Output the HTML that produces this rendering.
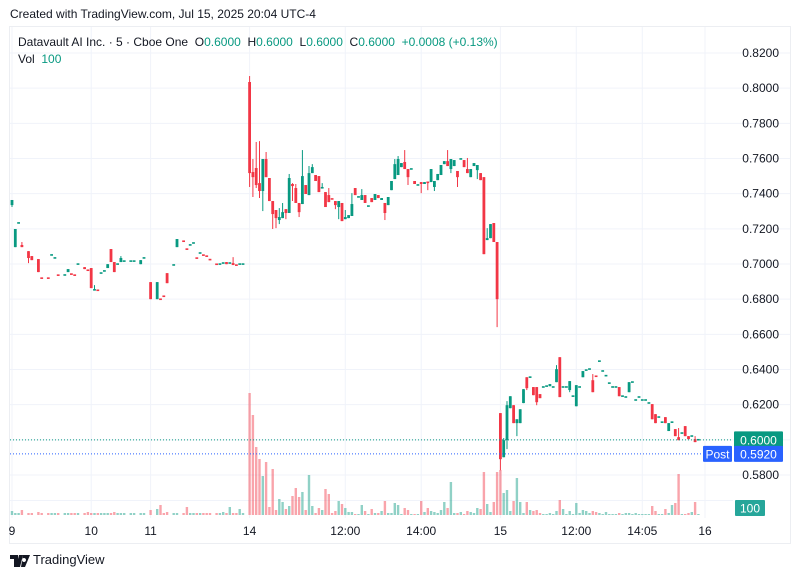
<!DOCTYPE html>
<html><head><meta charset="utf-8">
<style>
html,body{margin:0;padding:0;background:#fff;}
body{width:798px;height:578px;overflow:hidden;font-family:"Liberation Sans",sans-serif;color:#131722;position:relative;}
.t{position:absolute;font-size:12px;white-space:nowrap;}
.g{color:#089981;}
</style></head>
<body>
<div class="t" style="left:10px;top:7px;">Created with TradingView.com, Jul 15, 2025 20:04 UTC-4</div>
<svg id="chart" width="798" height="578" style="position:absolute;left:0;top:0;" xmlns="http://www.w3.org/2000/svg">
<rect x="9.5" y="26.5" width="781" height="517" fill="none" stroke="#eceef2"/>
<g id="grid"></g>
<g id="vol"></g>
<g id="candles"></g>
<g id="axes"></g>
</svg>
<div class="t" style="left:18px;top:35px;">Datavault AI Inc. · 5 · Cboe One&nbsp; O<span class="g">0.6000</span>&nbsp; H<span class="g">0.6000</span>&nbsp; L<span class="g">0.6000</span>&nbsp; C<span class="g">0.6000</span>&nbsp; <span class="g">+0.0008 (+0.13%)</span></div>
<div class="t" style="left:18px;top:52px;">Vol&nbsp; <span class="g">100</span></div>
<div style="position:absolute;left:10px;top:552px;height:16px;">
<svg width="20" height="12" style="position:absolute;left:0;top:3px;"><path d="M0 0h8v12H4V4H0z M9 0h4l-3 12H6z M14 3a2 2 0 1 0 0.01 0z M13 0h7l-5 12h-4z" fill="#131722"/></svg>
<span style="position:absolute;left:23px;top:0;font-size:13px;">TradingView</span>
</div>
<script>
var slots1=[0,1,2,3,5,6,8,9,11,12,13,14,16,17,18,19,20,22,23,24,25,26,27,28,29,30,31,32,33,34,36,37,39,40,42,44,45,46,47,49,50,52,53,54,55,56,57,58,59,60,62,63,64,65,66,67,68,69,70];
var opens=[.7335,.7096,.7233,.7108,.7073,.7045,.7028,.6920,.6920,.7051,.7034,.6937,.6937,.6954,.6943,.6937,.6999,.6982,.6965,.6977,.6851,.6851,.6948,.6960,.6977,.7085,.7011,.6999,.7011,.7016,.7016,.7016,.6999,.7034,.6897,.6800,.6800,.6817,.6948,.6994,.7096,.7130,.7085,.7108,.7119,.7034,.7062,.7051,.7045,.7028,.6999,.6999,.7005,.7011,.7005,.7005,.6994,.6999,.6999,
.8035,.7523,.7546,.7460,.7415,.7597,.7489,.7358,.7307,.7250,.7261,.7312,.7290,.7455,.7432,.7347,.7341,.7449,.7392,.7517,.7506,.7500,.7432,.7409,.7392,.7371,.7358,.7324,.7347,.7255,.7261,.7273,.7432,.7381,.7364,.7392,.7329,.7375,.7364,.7392,.7364,.7347,.7335,.7420,.7483,.7506,.7551,.7580,.7540,.7540,.7472,.7449,.7466,.7455,.7466,.7466,.7438,.7477,.7506,.7568,.7585,.7540,.7557,.7529,.7597,.7591,.7540,.7494,.7557,.7534,.7517,.7494,.7136,.7147,.7233,.7125,
.6152,.5901,.5998,.6180,.6197,.6095,.6095,.6209,.6356,.6356,.6300,.6300,.6260,.6300,.6305,.6305,.6300,.6328,.6470,.6300,.6300,.6283,.6248,.6191,.6300,.6356,.6396,.6402,.6339,.6362,.6447,.6391,.6362,.6322,.6300,.6300,.6300,.6248,.6243,.6271,.6328,.6226,.6243,.6226,.6226,.6209,.6203,.6146,.6129,.6100,.6129,.6050,.6100,.6061,.6015,.6038,.6078,.6021,.6021,.6004,.6000];
var highs=[.7364,.7199,.7233,.7125,.7073,.7045,.7028,.6920,.6920,.7051,.7034,.6937,.6937,.6971,.6943,.6937,.6999,.6982,.6965,.6977,.6880,.6851,.6948,.6960,.6999,.7085,.7011,.6999,.7045,.7016,.7016,.7016,.7022,.7034,.6897,.6897,.6800,.6817,.6948,.6994,.7142,.7130,.7085,.7108,.7119,.7034,.7062,.7051,.7045,.7028,.6999,.6999,.7005,.7011,.7005,.7039,.6994,.6999,.6999,
.8069,.7597,.7694,.7699,.7597,.7637,.7489,.7358,.7307,.7318,.7347,.7312,.7512,.7460,.7455,.7347,.7648,.7449,.7557,.7568,.7506,.7500,.7460,.7409,.7432,.7371,.7358,.7358,.7347,.7307,.7278,.7403,.7432,.7381,.7426,.7392,.7329,.7375,.7398,.7392,.7375,.7347,.7381,.7472,.7597,.7614,.7574,.7648,.7540,.7540,.7472,.7449,.7466,.7466,.7466,.7540,.7472,.7512,.7563,.7585,.7648,.7597,.7591,.7529,.7597,.7591,.7603,.7540,.7574,.7563,.7517,.7494,.7204,.7227,.7233,.7125,
.6152,.6010,.6220,.6248,.6197,.6117,.6174,.6288,.6356,.6356,.6300,.6300,.6260,.6300,.6305,.6317,.6300,.6425,.6470,.6300,.6300,.6334,.6248,.6311,.6300,.6391,.6396,.6402,.6374,.6362,.6447,.6391,.6368,.6322,.6300,.6300,.6300,.6248,.6243,.6328,.6328,.6226,.6243,.6226,.6226,.6209,.6203,.6146,.6129,.6100,.6129,.6095,.6100,.6061,.6067,.6038,.6078,.6021,.6021,.6021,.6000];
var lows=[.7324,.7096,.7233,.7096,.7005,.7022,.6954,.6920,.6920,.7051,.7034,.6937,.6937,.6954,.6943,.6937,.6999,.6971,.6965,.6863,.6851,.6851,.6948,.6960,.6977,.7011,.6954,.6999,.7011,.7016,.7016,.7016,.6999,.7034,.6800,.6800,.6800,.6817,.6891,.6994,.7096,.7130,.7085,.7108,.7119,.7034,.7062,.7051,.7045,.7022,.6999,.6999,.7005,.6999,.7005,.6994,.6994,.6999,.6999,
.7438,.7381,.7432,.7375,.7301,.7494,.7358,.7199,.7204,.7227,.7261,.7255,.7290,.7358,.7347,.7267,.7341,.7398,.7392,.7517,.7472,.7409,.7432,.7324,.7352,.7369,.7312,.7255,.7244,.7255,.7261,.7273,.7392,.7381,.7364,.7347,.7329,.7352,.7364,.7375,.7364,.7250,.7335,.7420,.7483,.7506,.7551,.7540,.7449,.7540,.7455,.7449,.7403,.7455,.7420,.7466,.7415,.7477,.7506,.7568,.7557,.7517,.7557,.7438,.7597,.7551,.7517,.7494,.7557,.7483,.7477,.7056,.7136,.7147,.7125,.6641,
.5827,.5901,.5947,.6180,.6095,.6021,.6095,.6209,.6283,.6356,.6254,.6197,.6237,.6300,.6305,.6305,.6300,.6328,.6243,.6300,.6300,.6271,.6248,.6191,.6300,.6356,.6396,.6402,.6271,.6362,.6447,.6391,.6362,.6322,.6300,.6300,.6248,.6248,.6243,.6271,.6328,.6226,.6243,.6226,.6226,.6209,.6117,.6095,.6129,.6100,.6095,.6050,.6100,.6021,.5998,.6038,.6021,.6004,.6021,.5987,.6000];
var closes=[.7364,.7199,.7234,.7096,.7034,.7022,.6954,.6919,.6919,.7052,.7035,.6936,.6938,.6971,.6942,.6936,.7000,.6971,.6964,.6863,.6855,.6850,.6949,.6961,.6999,.7011,.6954,.7000,.7034,.7017,.7017,.7017,.7022,.7035,.6800,.6897,.6799,.6816,.6891,.6995,.7142,.7129,.7084,.7109,.7120,.7033,.7063,.7050,.7044,.7022,.6998,.7000,.7006,.6999,.7006,.6994,.6993,.7000,.7000,
.7517,.7494,.7449,.7415,.7597,.7494,.7358,.7284,.7261,.7267,.7295,.7290,.7489,.7443,.7347,.7295,.7500,.7398,.7517,.7551,.7472,.7409,.7435,.7324,.7352,.7369,.7335,.7358,.7244,.7267,.7278,.7341,.7392,.7382,.7392,.7347,.7330,.7352,.7398,.7375,.7375,.7290,.7381,.7472,.7568,.7597,.7574,.7540,.7494,.7541,.7455,.7450,.7455,.7466,.7463,.7540,.7472,.7512,.7563,.7585,.7557,.7597,.7591,.7494,.7598,.7551,.7517,.7540,.7574,.7563,.7477,.7056,.7147,.7227,.7125,.6800,
.5890,.5998,.6197,.6248,.6095,.6117,.6174,.6288,.6294,.6357,.6254,.6214,.6237,.6301,.6306,.6317,.6301,.6402,.6243,.6301,.6301,.6334,.6249,.6311,.6301,.6391,.6397,.6403,.6271,.6361,.6448,.6392,.6368,.6323,.6301,.6301,.6248,.6249,.6244,.6328,.6329,.6227,.6244,.6227,.6227,.6210,.6117,.6095,.6130,.6101,.6095,.6095,.6101,.6021,.5998,.6039,.6021,.6004,.6022,.5987,.6001];
var volumes=[4,2,2,5,2,2,3,2,2,2,2,2,2,2,2,2,2,2,3,2,2,2,2,2,2,2,3,2,2,2,2,2,2,2,5,6,10,2,3,2,2,2,8,2,2,2,2,2,2,2,2,2,3,2,8,2,2,6,2,
122,100,68,56,39,53,8,46,5,16,13,6,9,19,27,18,23,5,40,9,2,7,5,26,21,2,4,14,11,7,3,3,1,1,10,4,1,6,2,2,4,14,2,2,12,10,1,7,5,1,1,1,14,3,7,4,3,2,5,13,7,33,2,2,3,1,4,3,2,7,6,43,11,3,13,43,
45,22,25,4,14,37,13,2,13,5,4,5,2,1,1,2,1,4,15,6,1,4,1,12,2,5,4,2,4,3,2,1,3,1,1,1,2,1,2,2,1,2,1,1,1,1,9,4,1,1,6,2,10,12,41,1,1,2,3,13,1];
var priceTicks=[0.82,0.80,0.78,0.76,0.74,0.72,0.70,0.68,0.66,0.64,0.62,0.58];
var timeLabels=["9","10","11","14","12:00","14:00","15","12:00","14:05","16"];
var timeSlots=[0,24,42,72,101,124,148,171,191,210];
var lastPrice=0.6000, postPrice=0.5920, volMax=122;

var slots=slots1.slice();
for(var i=72;i<=147;i++) slots.push(i);
for(var i=148;i<=208;i++) slots.push(i);

var NS="http://www.w3.org/2000/svg";
function X(s){return 12+s*3.3;}
function Y(p){return 53+(0.82-p)*1758.3;}
function VY(v){return 515-v/volMax*122;}
function mk(tag,at,parent){var e=document.createElementNS(NS,tag);for(var k in at)e.setAttribute(k,at[k]);parent.appendChild(e);return e;}
var grid=document.getElementById('grid'),vol=document.getElementById('vol'),cg=document.getElementById('candles'),ax=document.getElementById('axes');

[0.82,0.80,0.78,0.76,0.74,0.72,0.70,0.68,0.66,0.64,0.62,0.60,0.58].forEach(function(p){
  var l=mk('line',{x1:10,x2:790,y1:Y(p),y2:Y(p),stroke:'#f0f3fa','stroke-width':1},grid);
  
  
});
mk('line',{x1:10,x2:733,y1:500.5,y2:500.5,stroke:'#f0f3fa'},grid);
timeSlots.forEach(function(s){
  var l=mk('line',{x1:X(s),x2:X(s),y1:27,y2:518,stroke:'#f0f3fa','stroke-width':1},grid);
  
  
});

for(var i=0;i<opens.length;i++){
  var up=closes[i]>=opens[i];
  var col=up?'#089981':'#f23645';
  var vcol=up?'rgba(8,153,129,0.45)':'rgba(242,54,69,0.45)';
  var x=X(slots[i]);
  var vb=mk('rect',{x:x-1.2,y:VY(volumes[i]),width:2.4,height:515-VY(volumes[i]),fill:vcol},vol);
  
  
  var w=mk('line',{x1:x,x2:x,y1:Y(highs[i]),y2:Y(lows[i]),stroke:col,'stroke-width':1},cg);
  
  
  var t=Math.min(Y(opens[i]),Y(closes[i])),b=Math.max(Y(opens[i]),Y(closes[i]));
  if(b-t<1.6){var m=(t+b)/2;t=m-0.8;b=m+0.8;}
  var r=mk('rect',{x:x-1.4,y:t,width:2.8,height:b-t,fill:col},cg);
  
  
}

var l1=mk('line',{x1:10,x2:733,y1:Y(lastPrice),y2:Y(lastPrice),stroke:'#089981','stroke-width':1,'stroke-dasharray':'1 2'},ax);


var l2=mk('line',{x1:10,x2:733,y1:Y(postPrice),y2:Y(postPrice),stroke:'#2962ff','stroke-width':1,'stroke-dasharray':'1 2'},ax);



priceTicks.forEach(function(p){
  var t=mk('text',{x:779,y:Y(p)+4,'text-anchor':'end','font-size':12,fill:'#131722','font-family':'Liberation Sans, sans-serif'},ax);
  t.textContent=p.toFixed(4);
  
  
});
timeLabels.forEach(function(s,i){
  var t=mk('text',{x:X(timeSlots[i]),y:535,'text-anchor':'middle','font-size':12,fill:'#131722','font-family':'Liberation Sans, sans-serif'},ax);
  t.textContent=s;
  
  
});

function tag(x,y,w,h,fill,txt,name){
  var r=mk('rect',{x:x,y:y,width:w,height:h,fill:fill,rx:1},ax);
  
  
  var t=mk('text',{x:x+w/2,y:y+h/2+4.5,'text-anchor':'middle','font-size':12,fill:'#fff','font-family':'Liberation Sans, sans-serif'},ax);
  t.textContent=txt;
  
  
}
tag(734,Y(lastPrice)-8.5,49,17,'#089981',lastPrice.toFixed(4),'last-price-label');
tag(703,Y(postPrice)-8,29,16,'#2962ff','Post','post-label');
tag(734,Y(postPrice)-8,49,16,'#2962ff',postPrice.toFixed(4),'post-price-label');
tag(735,500,30,16,'#26a69a','100','volume-value-label');
</script>
</body></html>
